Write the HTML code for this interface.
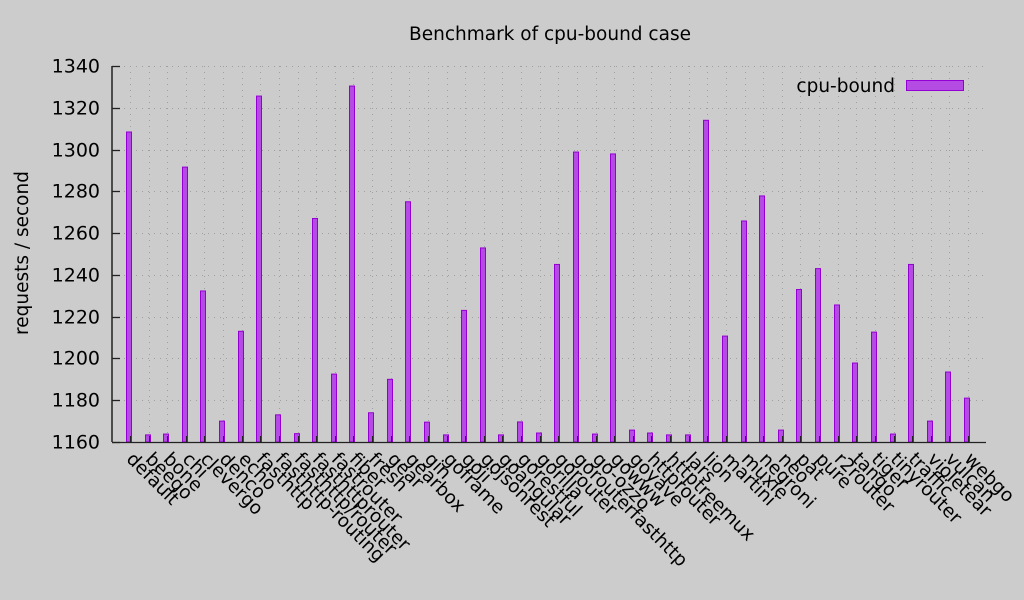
<!DOCTYPE html>
<html><head><meta charset="utf-8"><style>
html,body{margin:0;padding:0;background:#cccccc;}
svg{display:block;font-family:"DejaVu Sans","Liberation Sans",sans-serif;}
</style></head><body>
<svg id="chart" width="1024" height="600" viewBox="0 0 1024 600">
<rect width="1024" height="600" fill="#cccccc"/>
<text x="550" y="40" text-anchor="middle" font-size="18.5" fill="#000">Benchmark of cpu-bound case</text>
<text transform="translate(28,253) rotate(-90)" text-anchor="middle" font-size="18.5" fill="#000">requests / second</text>
<g id="grid"></g><g id="bars"></g><g id="axes"></g>
<g>
<text x="895" y="92" text-anchor="end" font-size="18.5" fill="#000">cpu-bound</text>
<rect x="906.5" y="80.5" width="57" height="10" fill="#b44be3" stroke="#9400d3" stroke-width="1"/>
</g>
</svg>
<script>
const categories = ["default","beego","bone","chi","clevergo","denco","echo","fasthttp","fasthttp-routing","fasthttp/router","fasthttprouter","fastrouter","fiber","fresh","gear","gearbox","gin","goframe","goji","gojsonrest","goangular","gorestful","gorilla","gorouter","gorouterfasthttp","go-ozzo","gowww","goyave","httprouter","httptreemux","lars","lion","martini","muxie","negroni","neo","pat","pure","r2router","tango","tiger","tinyrouter","traffic","violetear","vulcan","webgo"];
const values = [1308.4,1163.4,1163.8,1291.6,1232.3,1170,1213,1325.6,1173,1164,1267,1192.5,1330.4,1174,1190,1275,1169.5,1163.4,1223,1252.9,1163.4,1169.6,1164.3,1245,1298.8,1163.8,1297.9,1165.7,1164.3,1163.4,1163.4,1314,1210.7,1265.8,1277.8,1165.7,1233,1243,1225.6,1197.8,1212.6,1163.8,1245,1170,1193.5,1181];
const yTicks = [1160,1180,1200,1220,1240,1260,1280,1300,1320,1340];

const NS="http://www.w3.org/2000/svg";
const pLeft=112,pRight=986,pTop=66,pBottom=442,yMin=1160,yMax=1340;
const x0=130,x1=968;
function xPos(i){return x0+i*(x1-x0)/(categories.length-1);}
function yPos(v){return pBottom-(v-yMin)/(yMax-yMin)*(pBottom-pTop);}
function mk(tag,attrs,parent){const e=document.createElementNS(NS,tag);for(const k in attrs)e.setAttribute(k,attrs[k]);parent.appendChild(e);return e;}
const grid=document.getElementById('grid'),bars=document.getElementById('bars'),axes=document.getElementById('axes');
yTicks.forEach(t=>{
  const y=Math.round(yPos(t))+0.5;
  const g=mk('line',{x1:pLeft,x2:pRight,y1:y,y2:y,stroke:'#a0a0a0','stroke-width':1,'stroke-dasharray':'1,5'},grid);
  
  
  const tk=mk('line',{x1:pLeft,x2:pLeft+8,y1:y,y2:y,stroke:'#222','stroke-width':1.3},axes);
  
  
  const lb=mk('text',{x:100,y:y+6,'text-anchor':'end','font-size':19,fill:'#000'},axes);
  lb.textContent=t;
  
  
});
categories.forEach((c,i)=>{
  const x=Math.round(xPos(i))+0.5;
  const g=mk('line',{x1:x,x2:x,y1:pTop,y2:pBottom,stroke:'#a0a0a0','stroke-width':1,'stroke-dasharray':'1,5'},grid);
  
  
  const y=yPos(values[i]);
  const r=mk('rect',{x:x-4,y:y,width:5,height:pBottom-y,fill:'#b44be3',stroke:'#9400d3','stroke-width':1},bars);
  
  
  const tk=mk('line',{x1:x,x2:x,y1:pBottom,y2:pBottom-6,stroke:'#222','stroke-width':1},axes);
  
  
  const lb=mk('text',{transform:`translate(${x-5},${pBottom+18}) rotate(45)`,'font-size':18.5,fill:'#000'},axes);
  lb.textContent=c;
  
  
});
const ya=mk('line',{x1:pLeft,x2:pLeft,y1:pTop,y2:pBottom,stroke:'#222','stroke-width':1.5},axes);


const xa=mk('line',{x1:pLeft,x2:pRight,y1:pBottom+0.5,y2:pBottom+0.5,stroke:'#222','stroke-width':1.3},axes);


</script>
</body></html>
